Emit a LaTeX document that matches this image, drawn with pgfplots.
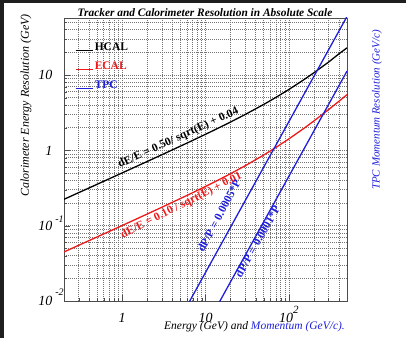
\documentclass[border=0pt]{standalone}
\usepackage{fontspec}
\setmainfont{Liberation Serif}
\usepackage{pgfplots}
\pgfplotsset{compat=1.18}
\definecolor{rblue}{RGB}{30,30,220}
\definecolor{rred}{RGB}{240,25,25}
\begin{document}
\begin{tikzpicture}
\path[use as bounding box] (0pt,0pt) rectangle (406pt,338pt);
\fill[black!88] (0pt,0pt) rectangle (4pt,338pt);
\fill[black!88] (0pt,335pt) rectangle (406pt,338pt);
\begin{axis}[
  at={(64pt,37pt)}, anchor=south west,
  scale only axis, width=283pt, height=283pt,
  xmode=log, ymode=log,
  xmin=0.2, xmax=500, ymin=0.01, ymax=57,
  xtick={1,10,100},
  xticklabels={1,10,10\raisebox{9pt}{\fontsize{11}{11}\selectfont 2}},
  ytick={0.01,0.1,1,10},
  yticklabels={10\rlap{\hspace{3pt}\raisebox{10pt}{\fontsize{10}{10}\selectfont -2}},10\rlap{\hspace{3pt}\raisebox{8pt}{\fontsize{10}{10}\selectfont -1}},1,10},
  minor xtick={0.3,0.4,0.5,0.6,0.7,0.8,0.9,2,3,4,5,6,7,8,9,20,30,40,50,60,70,80,90,200,300,400},
  minor ytick={0.02,0.03,0.04,0.05,0.06,0.07,0.08,0.09,0.2,0.3,0.4,0.5,0.6,0.7,0.8,0.9,2,3,4,5,6,7,8,9,20,30,40,50},
  xtick pos=bottom, ytick pos=left, tick align=inside,
  major tick length=6pt, minor tick length=3pt,
  tick style={black!70},
  grid=both,
  major grid style={dash pattern=on 1pt off 1pt, black!55, line width=0.5pt},
  minor grid style={dash pattern=on 1pt off 1pt, black!55, line width=0.5pt},
  axis line style={black!70, line width=0.7pt},
  ticklabel style={font=\itshape\fontsize{14}{14}\selectfont, inner sep=0pt},
  xticklabel style={anchor=base, yshift=-21.5pt},
  yticklabel style={anchor=base east, xshift=-11.5pt, yshift=-4.7pt},
  xlabel={Energy (GeV) and \textcolor{rblue}{Momentum (GeV/c).}},
  xlabel style={at={(axis description cs:0.993,-0.1007)}, anchor=base east, inner sep=0pt, font=\itshape\fontsize{11.5}{12}\selectfont},
  legend style={at={(axis description cs:0.038,0.921)}, anchor=north west, draw=none, fill=none, inner sep=0pt,
    font=\bfseries\fontsize{11.5}{12}\selectfont, row sep=8pt,
    nodes={inner sep=1.5pt, text height=8pt, text depth=0pt}},
  legend cell align=left,
  legend image code/.code={\draw[#1] (0pt,-4.5pt) -- (17pt,-4.5pt);},
]
% HCAL: dE = sqrt(0.25 E + 0.0016 E^2)
\addplot[black, line width=1.3pt] coordinates {
(0.2,0.22375) (0.3,0.27412) (0.5,0.35412) (0.7,0.41927) (1,0.50160) (1.5,0.61530)
(2,0.71162) (3,0.87430) (5,1.13578) (7,1.35218) (10,1.63095) (15,2.02731)
(20,2.37487) (30,2.98998) (50,4.06202) (70,5.03389) (100,6.40312) (150,8.57321)
(200,10.6771) (300,14.7986) (400,19.08) (500,22.91)};
\addlegendentry{HCAL}
% ECAL: dE = sqrt(0.01 E + 0.0001 E^2)
\addplot[rred, line width=1.3pt] coordinates {
(0.2,0.044766) (0.3,0.054854) (0.5,0.070887) (0.7,0.083958) (1,0.100499) (1.5,0.123390)
(2,0.142829) (3,0.175784) (5,0.229129) (7,0.273679) (10,0.331662) (15,0.415331)
(20,0.489898) (30,0.624500) (50,0.866025) (70,1.090871) (100,1.414214) (150,1.936492)
(200,2.449490) (300,3.464102) (400,4.472) (500,5.477)};
\addlegendentry{\textcolor{rred}{ECAL}}
% TPC dP/P = 0.0005*P
\addplot[rblue, line width=1.3pt] coordinates {(5,0.005975) (500,59.75)};
\addlegendentry{\textcolor{rblue}{TPC}}
% TPC dP/P = 0.0001*P
\addplot[rblue, line width=1.3pt, forget plot] coordinates {(10,0.0045) (500,11.25)};
\node[rotate=24.6, anchor=base west, inner sep=0pt, font=\bfseries\fontsize{11.5}{12}\selectfont] at (axis cs:0.935,0.5829) {dE/E = 0.50/ sqrt(E) + 0.04};
\node[rotate=26.8, anchor=base west, inner sep=0pt, text=rred, font=\bfseries\fontsize{11.5}{12}\selectfont] at (axis cs:1.016,0.068) {dE/E = 0.10 / sqrt(E) + 0.01};
\node[rotate=62, anchor=base west, inner sep=0pt, text=rblue, font=\bfseries\fontsize{11.5}{12}\selectfont] at (axis cs:9.456,0.04337) {dP/P = 0.0005*P};
\node[rotate=60.5, anchor=base west, inner sep=0pt, text=rblue, font=\bfseries\fontsize{11.5}{12}\selectfont] at (axis cs:26.71,0.02001) {dP/P = 0.0001*P};
\end{axis}
\node[rotate=90, text=rblue, font=\itshape\fontsize{11}{12}\selectfont] at (377pt,228pt) {TPC Momentum Resolution (GeV/c)};
\node[rotate=90, font=\itshape\fontsize{12}{12}\selectfont] at (26pt,232.5pt) {Calorimeter Energy Resolution (GeV)};
\node[anchor=base, inner sep=0pt, font=\bfseries\itshape\fontsize{11.4}{12}\selectfont] at (205pt,321.5pt) {Tracker and Calorimeter Resolution in Absolute Scale};
\end{tikzpicture}
\end{document}
